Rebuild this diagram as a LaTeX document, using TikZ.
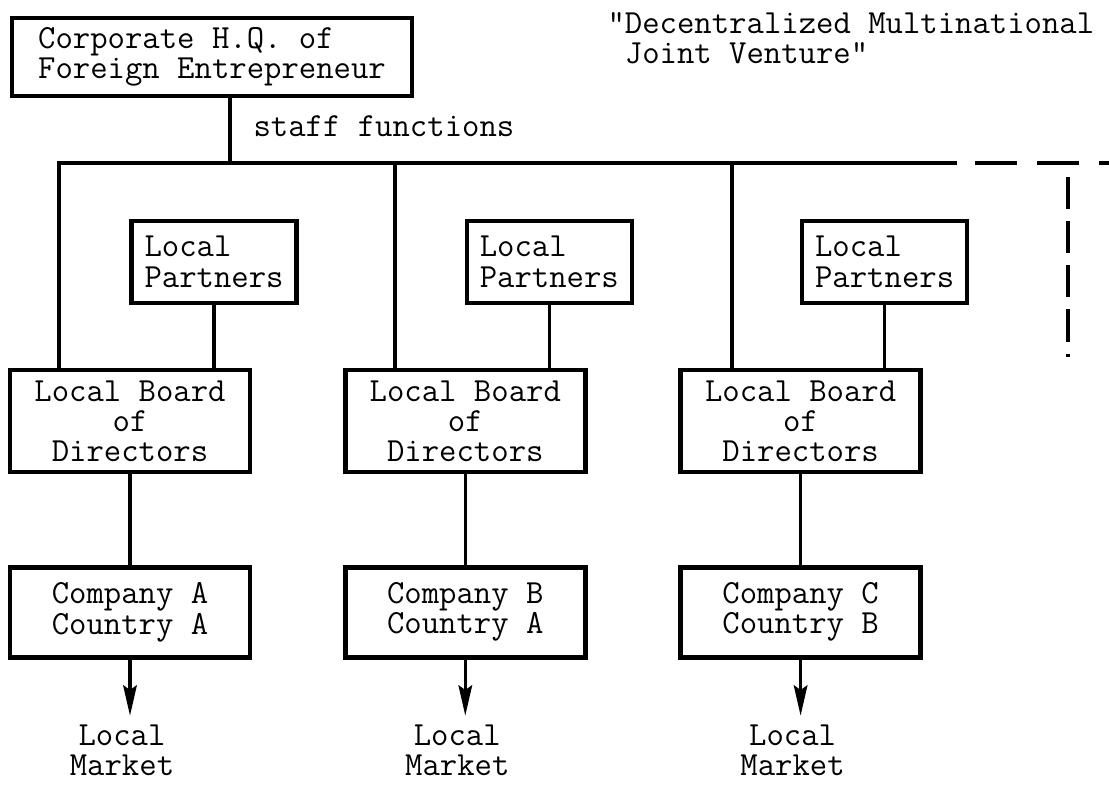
\documentclass[tikz,border=0pt]{standalone}
\usepackage{fontspec}
\usetikzlibrary{arrows.meta}
\newcommand{\tw}{\ttfamily\fontsize{12}{10.7}\selectfont}
\tikzstyle{typed} = [rectangle, draw=black, line width=1.6pt, font=\tw, inner sep=0pt]
\tikzstyle{hqbox} = [typed, minimum width=5cm, minimum height=0.975cm, align=left]
\tikzstyle{partners} = [typed, minimum width=2.06cm, minimum height=1.025cm, align=left]
\tikzstyle{board} = [typed, minimum width=3cm, minimum height=1.275cm, align=center]
\tikzstyle{company} = [typed, minimum width=3cm, minimum height=1.125cm, align=left]
\tikzstyle{market} = [font=\tw, align=center, inner xsep=5pt, inner ysep=3.2pt]
\tikzstyle{link} = [line width=1.2pt]
\tikzstyle{arrow} = [line width=1.2pt, -{Stealth[length=0.38cm, width=0.17cm, inset=0.06cm]}]

\begin{document}
\begin{tikzpicture}[x=0.0125cm, y=-0.0125cm, node distance=2.39cm]
\useasboundingbox (0,0) rectangle (1109,784);

\node (hq) [hqbox] at (212,57) {Corporate H.Q. of\\Foreign Entrepreneur};
\node (title) [font=\tw, align=left, anchor=north west, inner sep=0pt] at (607,12) {"Decentralized Multinational\\\hphantom{"}Joint Venture"};
\node (staff) [font=\tw, anchor=west, inner sep=0pt] at (253,126) {staff functions};

\node (boardA) [board] at (130,421) {Local Board\\of\\Directors};
\node (boardB) [board, right of=boardA, xshift=1.8cm] {Local Board\\of\\Directors};
\node (boardC) [board, right of=boardB, xshift=1.8cm] {Local Board\\of\\Directors};

\node (partA) [partners, above of=boardA, xshift=1.05cm, yshift=-0.4cm] {Local\\Partners};
\node (partB) [partners, above of=boardB, xshift=1.05cm, yshift=-0.4cm] {Local\\Partners};
\node (partC) [partners, above of=boardC, xshift=1.05cm, yshift=-0.4cm] {Local\\Partners};

\node (compA) [company, below of=boardA] {Company A\\Country A};
\node (compB) [company, below of=boardB] {Company B\\Country A};
\node (compC) [company, below of=boardC] {Company C\\Country B};

\node (mktA) [market, below of=compA, xshift=-0.1cm, yshift=0.66cm] {Local\\Market};
\node (mktB) [market, below of=compB, xshift=-0.1cm, yshift=0.66cm] {Local\\Market};
\node (mktC) [market, below of=compC, xshift=-0.1cm, yshift=0.66cm] {Local\\Market};

% bus under the head office
\coordinate (busA) at (59,163);
\coordinate (hub) at (230,163);
\coordinate (busB) at (395,163);
\coordinate (busC) at (732,163);
\coordinate (busEnd) at (957,163);
\coordinate (dashStart) at (975,163);
\coordinate (edge) at (1109,163);
\coordinate (dropTop) at (1068,177);
\coordinate (dropEnd) at (1068,357);

\draw [link] (hub |- hq.south) -- (hub);
\draw [link] (busA |- boardA.north) -- (busA) -- (busEnd);
\draw [link, dash pattern=on 14.9pt off 7.1pt] (dashStart) -- (edge);
\draw [link, dash pattern=on 11.4pt off 4.3pt] (dropTop) -- (dropEnd);
\draw [link] (busB) -- (busB |- boardB.north);
\draw [link] (busC) -- (busC |- boardC.north);

\draw [link] (partA) -- (partA |- boardA.north);
\draw [link] (partB) -- (partB |- boardB.north);
\draw [link] (partC) -- (partC |- boardC.north);

\draw [link] (boardA) -- (compA);
\draw [link] (boardB) -- (compB);
\draw [link] (boardC) -- (compC);

\draw [arrow] (compA) -- (compA |- mktA.north);
\draw [arrow] (compB) -- (compB |- mktB.north);
\draw [arrow] (compC) -- (compC |- mktC.north);

\end{tikzpicture}
\end{document}
